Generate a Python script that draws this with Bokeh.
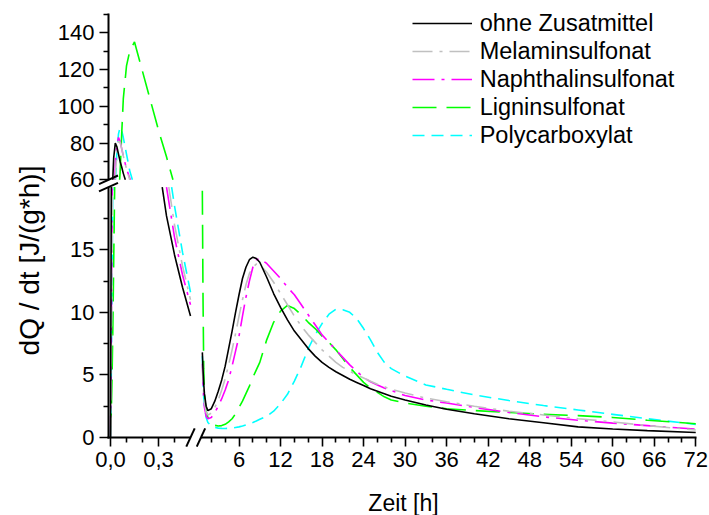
import numpy as np
from bokeh.plotting import figure
from bokeh.models import Range1d, FixedTicker, Legend, LegendItem, Arrow, Label
from bokeh.embed import file_html
from bokeh.resources import INLINE

# ---------------- data: heat flow dQ/dt in J/(g*h) ----------------
series_names = ["ohne Zusatmittel", "Melaminsulfonat", "Naphthalinsulfonat",
                "Ligninsulfonat", "Polycarboxylat"]

# initial period (time in h)
t_early = [0, 0.005, 0.01, 0.015, 0.02, 0.03, 0.04, 0.05, 0.06, 0.07, 0.08,
           0.10, 0.12, 0.15, 0.20, 0.25, 0.30, 0.35, 0.40, 0.45, 0.50]
early_ohne = [0, 20, 45, 62, 72, 80, 78, 74, 70, 67, 63.5,
              58, 52, 45, 35, 28, 22, 17.7, 14.6, 12.0, 9.7]
early_melamin = [0, 6, 15, 27, 40, 62, 75, 81, 80.5, 77, 73,
                 66, 60, 53, 42, 33.5, 26.5, 21.2, 17, 13.7, 11.0]
early_naphthalin = [0, 8, 18, 30, 45, 68, 79, 83, 81, 77, 73,
                    66, 61, 53, 41, 32, 25, 20, 16, 13, 10.6]
early_lignin = [0, 2, 5, 9, 14, 24, 36, 50, 64, 85, 104,
                122, 130, 135, 119, 103, 87, 72.5, 57, np.nan, np.nan]
early_poly = [0, 5, 12, 22, 34, 58, 75, 85, 88.5, 87, 83,
              74, 65, 56, 44, 35, 28, 22.7, 18.5, 14.8, 11.6]

# main hydration period (time in h)
t_late = [0.7, 0.8, 0.9, 1.0, 1.25, 1.5, 2, 2.5, 3, 3.5, 4, 4.5, 5, 5.5, 6, 6.5,
          7, 7.5, 8, 8.5, 9, 10, 11, 12, 13, 14, 15, 16, 17, 18, 19, 20, 21, 22,
          23, 24, 25, 26, 27, 28, 30, 33, 36, 40, 45, 50, 55, 60, 65, 72]
late_ohne = [6.8, 5.4, 4.3, 3.5, 2.5, 2.15, 2.3, 2.9, 3.7, 4.6, 5.7, 7.1, 8.5, 10.0, 11.4, 12.7,
             13.6, 14.2, 14.4, 14.3, 14.0, 12.8, 11.5, 10.4, 9.4, 8.5, 7.8, 7.1, 6.5, 6.0, 5.6, 5.25, 4.95, 4.65,
             4.4, 4.15, 3.9, 3.7, 3.5, 3.3, 3.0, 2.6, 2.25, 1.9, 1.5, 1.18, 0.85, 0.68, 0.55, 0.4]
late_melamin = [6.0, 4.6, 3.5, 2.8, 2.0, 1.8, 1.95, 2.4, 3.0, 3.8, 4.7, 5.8, 7.0, 8.3, 9.7, 11.0,
                12.2, 13.1, 13.6, 13.85, 13.8, 13.2, 12.4, 11.5, 10.6, 9.7, 8.9, 8.2, 7.6, 7.0, 6.5, 6.0, 5.6, 5.3,
                5.0, 4.75, 4.5, 4.25, 4.05, 3.85, 3.55, 3.15, 2.85, 2.5, 2.1, 1.8, 1.5, 1.25, 0.95, 0.6]
late_naphthalin = [5.9, 4.3, 3.1, 2.4, 1.7, 1.5, 1.6, 2.0, 2.5, 3.1, 3.8, 4.6, 5.7, 6.9, 8.1, 9.7,
                   11.2, 12.5, 13.6, 14.2, 14.3, 13.9, 13.3, 12.7, 12.0, 11.4, 10.6, 9.8, 9.0, 8.2, 7.6, 7.0, 6.4, 5.8,
                   5.3, 4.8, 4.45, 4.2, 3.95, 3.75, 3.35, 3.0, 2.75, 2.4, 2.0, 1.65, 1.38, 1.15, 0.95, 0.67]
late_lignin = [19.7, 11, 5.5, 3.4, 2.1, 1.6, 1.15, 0.97, 0.92, 0.95, 1.05, 1.25, 1.5, 1.9, 2.4, 2.9,
               3.5, 4.1, 4.8, 5.4, 6.0, 7.8, 9.2, 10.1, 10.55, 10.3, 9.8, 9.2, 8.7, 8.1, 7.6, 7.0, 6.3, 5.6,
               5.0, 4.4, 3.95, 3.6, 3.25, 3.0, 2.75, 2.5, 2.3, 2.15, 2.0, 1.85, 1.75, 1.6, 1.38, 1.1]
late_poly = [6.5, 4.5, 3.2, 2.5, 1.6, 1.2, 0.9, 0.8, 0.75, 0.73, 0.72, 0.73, 0.75, 0.8, 0.85, 0.92,
             1.0, 1.1, 1.2, 1.32, 1.45, 1.7, 2.1, 2.7, 3.45, 4.5, 5.7, 7.1, 8.2, 9.1, 9.85, 10.25, 10.2, 10.0,
             9.5, 8.7, 7.8, 6.8, 6.0, 5.5, 4.9, 4.2, 3.85, 3.4, 2.95, 2.55, 2.2, 1.85, 1.5, 1.05]

# axis ticks (values) of the broken axes
x_major_early = [0.0, 0.3]
x_minor_early = [0.1, 0.2, 0.4]
x_major_late = [6, 12, 18, 24, 30, 36, 42, 48, 54, 60, 66, 72]
x_minor_late = [2, 4, 8, 10, 14, 16, 20, 22, 26, 28, 32, 34, 38, 40, 44, 46,
                50, 52, 56, 58, 62, 64, 68, 70]
y_major_low = [0, 5, 10, 15]
y_minor_low = [2.5, 7.5, 12.5, 17.5]
y_major_high = [60, 80, 100, 120, 140]
y_minor_high = [70, 90, 110, 130, 150]

# ---------------- broken-axis geometry (screen-like plot units) ----------------
X1_0, SX1 = 110.0, 160.0          # early segment: 0 ... 0.5 h
T1_END = 0.5
X2_0, SX2 = 197.0, 6.92           # late segment: 0.5 ... 72 h
T2_START, T2_END = 0.5, 72.0
SY_LO, Y_LO_TOP = 12.52, 20.0     # lower band: 0 ... 20
VY_HI0, SY_HI = 257.7, 1.8375     # upper band: 60 ... 150
Y_HI_BOT, Y_HI_TOP = 60.0, 150.0
X_AXIS_POS, X_AXIS_END = 108.0, 696.0   # where the y axis sits / x axis ends
CANVAS_X = (0.0, 709.0)
CANVAS_Y = (-78.0, 437.0)


def fx_early(t):
    return X1_0 + SX1 * np.asarray(t, dtype=float)


def fx_late(t):
    return X2_0 + SX2 * np.asarray(t, dtype=float)


def fy_low(v):
    return SY_LO * np.asarray(v, dtype=float)


def fy_high(v):
    return VY_HI0 + SY_HI * (np.asarray(v, dtype=float) - Y_HI_BOT)


def clip_band(t, v, lo, hi):
    """Keep the parts of a polyline whose values lie in [lo, hi]."""
    out_t, out_v = [], []
    last = None
    for i in range(len(t) - 1):
        ta, va, tb, vb = t[i], v[i], t[i + 1], v[i + 1]
        if np.isnan(va) or np.isnan(vb):
            continue
        s0, s1 = 0.0, 1.0
        dv = vb - va
        if dv == 0:
            if not (lo <= va <= hi):
                continue
        else:
            sa, sb = (lo - va) / dv, (hi - va) / dv
            s0, s1 = max(s0, min(sa, sb)), min(s1, max(sa, sb))
            if s0 > s1:
                continue
        p0 = (ta + s0 * (tb - ta), va + s0 * dv)
        p1 = (ta + s1 * (tb - ta), va + s1 * dv)
        if last is None or abs(last[0] - p0[0]) > 1e-12 or abs(last[1] - p0[1]) > 1e-12:
            if out_t:
                out_t.append(np.nan)
                out_v.append(np.nan)
            out_t.append(p0[0])
            out_v.append(p0[1])
        out_t.append(p1[0])
        out_v.append(p1[1])
        last = p1
    return np.array(out_t, dtype=float), np.array(out_v, dtype=float)


def series_xy(early, late):
    pieces = []
    t, v = clip_band(t_early, early, 0.0, Y_LO_TOP)
    pieces.append((fx_early(t), fy_low(v)))
    t, v = clip_band(t_early, early, Y_HI_BOT, Y_HI_TOP)
    pieces.append((fx_early(t), fy_high(v)))
    t, v = clip_band(t_late, late, 0.0, Y_LO_TOP)
    pieces.append((fx_late(t), fy_low(v)))
    xs, ys = [], []
    for px, py in pieces:
        if len(px) == 0:
            continue
        if xs:
            xs.append([np.nan])
            ys.append([np.nan])
        xs.append(px)
        ys.append(py)
    return np.concatenate(xs), np.concatenate(ys)


p = figure(width=709, height=515, output_backend="svg", toolbar_location=None,
           x_range=Range1d(*CANVAS_X), y_range=Range1d(*CANVAS_Y),
           min_border_left=0, min_border_right=0, min_border_top=0,
           min_border_bottom=0)
p.outline_line_color = None
p.grid.visible = False
p.background_fill_color = "white"
p.border_fill_color = "white"

styles = [
    dict(color="#000000", dash="solid"),
    dict(color="#C0C0C0", dash="20 7 3 7"),
    dict(color="#FF00FF", dash="22 7 3 7"),
    dict(color="#00FF00", dash="24 10"),
    dict(color="#00FFFF", dash="12 7"),
]
early_all = [early_ohne, early_melamin, early_naphthalin, early_lignin, early_poly]
late_all = [late_ohne, late_melamin, late_naphthalin, late_lignin, late_poly]

renderers = {}
for i in [4, 3, 2, 1, 0]:
    xs, ys = series_xy(early_all[i], late_all[i])
    renderers[i] = p.line(xs, ys, line_color=styles[i]["color"],
                          line_dash=styles[i]["dash"], line_width=1.6)
items = [LegendItem(label=series_names[i], renderers=[renderers[i]]) for i in range(5)]

# ---------------- axes (pinned at the axis crossing) ----------------
FONT = "Liberation Sans"
xt_major = list(fx_early(x_major_early)) + list(fx_late(x_major_late))
xt_minor = list(fx_early(x_minor_early)) + list(fx_late(x_minor_late))
x_labels = {}
for val, pos in zip(x_major_early, fx_early(x_major_early)):
    x_labels[float(pos)] = f"{val:.1f}".replace(".", ",")
for val, pos in zip(x_major_late, fx_late(x_major_late)):
    x_labels[float(pos)] = str(val)
p.xaxis.ticker = FixedTicker(ticks=[float(v) for v in xt_major],
                             minor_ticks=[float(v) for v in xt_minor])
p.xaxis.major_label_overrides = x_labels
p.xaxis.fixed_location = 0.0

yt_major = list(fy_low(y_major_low)) + list(fy_high(y_major_high))
yt_minor = list(fy_low(y_minor_low)) + list(fy_high(y_minor_high))
y_labels = {}
for val, pos in zip(y_major_low, fy_low(y_major_low)):
    y_labels[float(pos)] = str(val)
for val, pos in zip(y_major_high, fy_high(y_major_high)):
    y_labels[float(pos)] = str(val)
p.yaxis.ticker = FixedTicker(ticks=[float(v) for v in yt_major],
                             minor_ticks=[float(v) for v in yt_minor])
p.yaxis.major_label_overrides = y_labels
p.yaxis.fixed_location = X_AXIS_POS

for ax in (p.xaxis[0], p.yaxis[0]):
    ax.axis_line_color = None
    ax.major_tick_in = 0
    ax.major_tick_out = 9
    ax.minor_tick_in = 0
    ax.minor_tick_out = 5
    ax.major_tick_line_width = 1.6
    ax.minor_tick_line_width = 1.6
    ax.major_tick_line_color = "black"
    ax.minor_tick_line_color = "black"
    ax.major_label_text_font = FONT
    ax.major_label_text_font_size = "22px"
    ax.major_label_text_color = "black"
    ax.major_label_standoff = 5

# axis titles
x_title_pos = (0.5 * (float(fx_early(0.0)) + X_AXIS_END), -65.0)
y_title_pos = (29.0, 177.0)
p.add_layout(Label(x=x_title_pos[0], y=x_title_pos[1], text="Zeit [h]",
                   text_align="center", text_baseline="middle",
                   text_font=FONT, text_font_size="23px", text_color="black"))
p.add_layout(Label(x=y_title_pos[0], y=y_title_pos[1], text="dQ / dt [J/(g*h)]",
                   angle=np.pi / 2, text_align="center", text_baseline="middle",
                   text_font=FONT, text_font_size="28px", text_color="black"))

# broken axis lines and the break marks
def axis_piece(x0, y0, x1, y1):
    p.add_layout(Arrow(end=None, x_start=x0, y_start=y0, x_end=x1, y_end=y1,
                       line_color="black", line_width=2))

y_axis_top = float(fy_high(Y_HI_TOP))
y_hi_start = float(fy_high(Y_HI_BOT))
y_lo_end = float(fy_low(Y_LO_TOP))
x_e_end = float(fx_early(T1_END))
x_l_start = float(fx_late(T2_START))
axis_piece(X_AXIS_POS, y_axis_top + 1, X_AXIS_POS, y_hi_start)
axis_piece(X_AXIS_POS, y_lo_end, X_AXIS_POS, -1)
axis_piece(X_AXIS_POS - 1, 0, x_e_end, 0)
axis_piece(x_l_start, 0, X_AXIS_END, 0)
for yc in (y_hi_start, y_lo_end):
    axis_piece(X_AXIS_POS - 9.5, yc - 4.3, X_AXIS_POS + 9.5, yc + 4.3)
for xc in (x_e_end, x_l_start):
    axis_piece(xc - 4.2, -9.2, xc + 4.2, 9.2)

legend = Legend(items=items, location=(411.7, 365.7), orientation="vertical",
                border_line_color=None, background_fill_alpha=0,
                padding=0, margin=0, spacing=0, glyph_width=60,
                glyph_height=28, label_height=28, label_standoff=8,
                label_text_font=FONT, label_text_font_size="23.5px",
                label_text_color="black")
p.add_layout(legend)

open("out.html", "w").write(file_html(p, INLINE))
